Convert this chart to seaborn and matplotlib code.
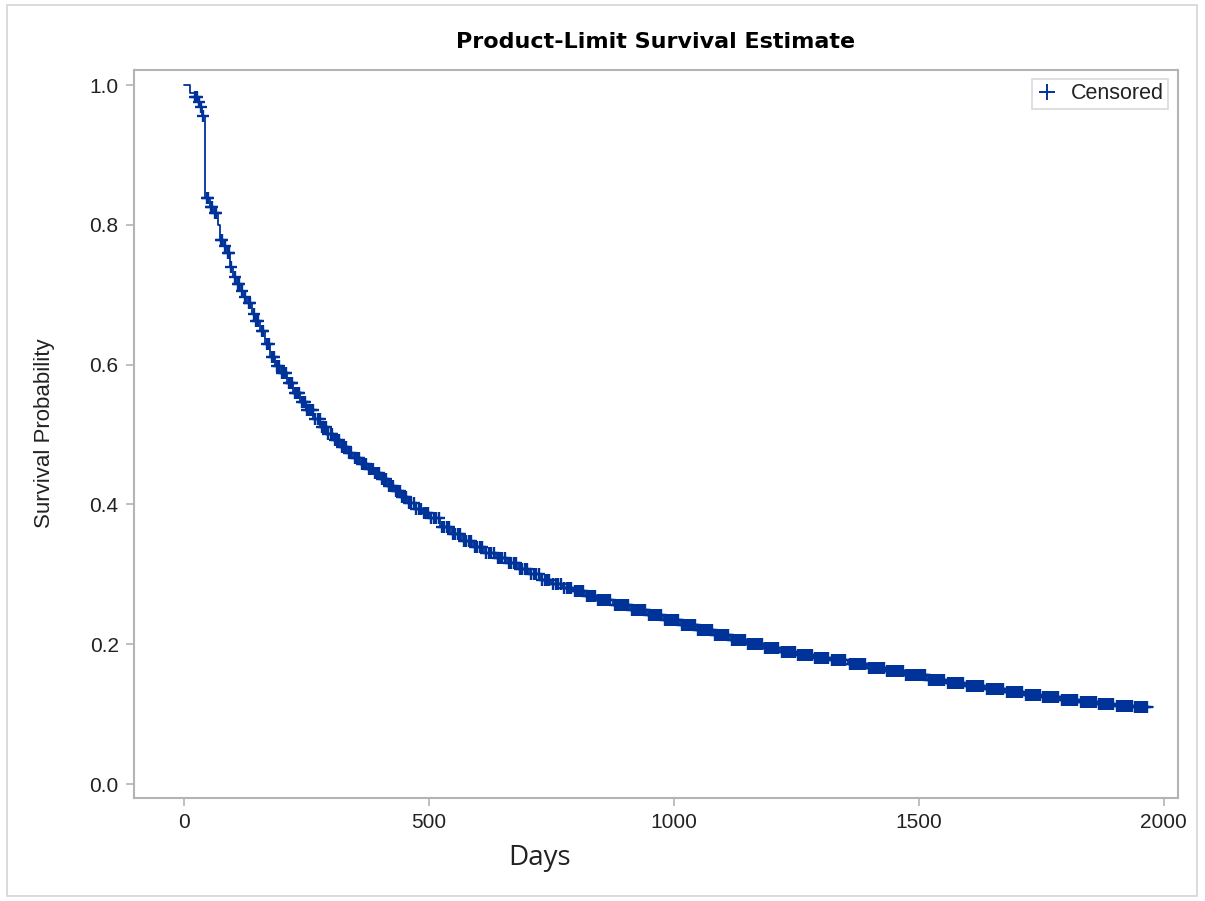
import numpy as np
import pandas as pd
import matplotlib
matplotlib.use("Agg")
import matplotlib.pyplot as plt
from matplotlib.patches import Rectangle
from matplotlib.lines import Line2D
import seaborn as sns

# ---- data ----
step_days = [0, 12, 22, 29, 33, 36, 43, 53, 60, 69,
             73, 80, 87, 94, 100, 107, 114, 121, 128, 138,
             145, 155, 165, 176, 186, 196, 210, 223, 236, 250,
             264, 278, 291, 304, 318, 332, 345, 360, 373, 386,
             400, 414, 428, 441, 455, 470, 485, 500, 522, 545,
             567, 590, 613, 636, 659, 682, 705, 727, 750, 772,
             794, 818, 842, 875, 910, 945, 978, 1012, 1046, 1080,
             1114, 1148, 1182, 1216, 1250, 1284, 1318, 1355, 1394, 1432,
             1470, 1516, 1555, 1595, 1635, 1675, 1715, 1750, 1788, 1826,
             1864, 1900, 1938]
step_surv = [1.0, 0.989, 0.983, 0.976, 0.969, 0.955, 0.838, 0.826, 0.817, 0.800,
             0.778, 0.770, 0.760, 0.740, 0.726, 0.716, 0.705, 0.697, 0.688, 0.673,
             0.662, 0.648, 0.630, 0.611, 0.598, 0.588, 0.573, 0.559, 0.547, 0.535,
             0.522, 0.511, 0.501, 0.492, 0.482, 0.474, 0.466, 0.458, 0.451, 0.445,
             0.436, 0.427, 0.419, 0.410, 0.402, 0.394, 0.388, 0.381, 0.368, 0.358,
             0.348, 0.339, 0.331, 0.323, 0.316, 0.308, 0.300, 0.292, 0.286, 0.281,
             0.276, 0.269, 0.263, 0.256, 0.249, 0.242, 0.234, 0.227, 0.220, 0.213,
             0.206, 0.200, 0.194, 0.189, 0.185, 0.181, 0.177, 0.171, 0.166, 0.161,
             0.156, 0.149, 0.145, 0.140, 0.136, 0.132, 0.128, 0.124, 0.120, 0.117,
             0.114, 0.112, 0.110]
last_day = 1978
censor_days = [
    22, 26, 31, 35, 38, 46, 49, 56, 58, 64, 66, 76, 78, 83, 90, 92, 97,
    104, 110, 112, 118, 125, 132, 135, 142, 148, 152, 160, 162, 170, 173,
    180, 183, 190, 193, 200, 205, 208, 215, 218, 221, 226, 228, 232, 235,
    240, 245, 248, 252, 255, 260, 263, 268, 273, 277, 282, 286, 290, 295, 300,
    303, 308, 313, 317, 322, 327, 331, 336, 341, 349, 354, 358, 364, 368, 372,
    377, 381, 385, 390, 395, 399, 404, 408, 413, 418, 422, 427, 432, 436, 440,
    445, 450, 454, 460, 464, 469, 474, 479, 484, 489, 494, 499, 505, 510, 515,
    520, 526, 531, 536, 541, 549, 554, 559, 564, 571, 576, 581, 586, 594, 599,
    604, 609, 617, 622, 627, 632, 640, 645, 650, 655, 663, 668, 673, 678, 686,
    691, 696, 701, 709, 714, 719, 724, 731, 736, 741, 746, 754, 759, 764, 769,
    776, 781, 786, 791,
    798, 802, 806, 810, 814,
    822, 826, 830, 834, 838,
    846, 850, 854, 858, 862, 866, 870,
    879, 883, 887, 891, 895, 899, 903, 907,
    914, 918, 922, 926, 930, 934, 938, 942,
    949, 953, 957, 961, 965, 969, 973,
    982, 986, 990, 994, 998, 1002, 1006, 1009,
    1016, 1020, 1024, 1028, 1032, 1036, 1040, 1043,
    1050, 1054, 1058, 1062, 1066, 1070, 1074, 1077,
    1084, 1088, 1092, 1096, 1100, 1104, 1108, 1111,
    1118, 1122, 1126, 1130, 1134, 1138, 1142, 1145,
    1152, 1156, 1160, 1164, 1168, 1172, 1176, 1179,
    1186, 1190, 1194, 1198, 1202, 1206, 1210, 1213,
    1220, 1224, 1228, 1232, 1236, 1240, 1244, 1247,
    1254, 1258, 1262, 1266, 1270, 1274, 1278, 1281,
    1288, 1292, 1296, 1300, 1304, 1308, 1312, 1315,
    1322, 1326, 1330, 1334, 1338, 1342, 1346, 1350,
    1359, 1363, 1367, 1371, 1375, 1379, 1383, 1387, 1391,
    1398, 1402, 1406, 1410, 1414, 1418, 1422, 1426, 1429,
    1436, 1440, 1444, 1448, 1452, 1456, 1460, 1464, 1467,
    1474, 1478, 1482, 1486, 1490, 1494, 1498, 1502, 1506, 1510, 1513,
    1520, 1524, 1528, 1532, 1536, 1540, 1544, 1548, 1552,
    1559, 1563, 1567, 1571, 1575, 1579, 1583, 1587, 1591,
    1599, 1603, 1607, 1611, 1615, 1619, 1623, 1627, 1631,
    1639, 1643, 1647, 1651, 1655, 1659, 1663, 1667, 1671,
    1679, 1683, 1687, 1691, 1695, 1699, 1703, 1707, 1711,
    1719, 1723, 1727, 1731, 1735, 1739, 1743, 1747,
    1754, 1758, 1762, 1766, 1770, 1774, 1778, 1782, 1785,
    1792, 1796, 1800, 1804, 1808, 1812, 1816, 1820, 1823,
    1830, 1834, 1838, 1842, 1846, 1850, 1854, 1858, 1861,
    1868, 1872, 1876, 1880, 1884, 1888, 1892, 1896,
    1904, 1908, 1912, 1916, 1920, 1924, 1928, 1932, 1935,
    1942, 1946, 1950, 1954, 1958, 1962, 1966]
x_ticks = [0, 500, 1000, 1500, 2000]
y_ticks = [0.0, 0.2, 0.4, 0.6, 0.8, 1.0]

title = "Product-Limit Survival Estimate"
x_label = "Days"
y_label = "Survival Probability"
legend_label = "Censored"

# ---- build frames ----
curve = pd.DataFrame({"Days": step_days + [last_day],
                      "Survival": step_surv + [step_surv[-1]]})
idx = np.searchsorted(np.array(step_days), np.array(censor_days), side="right") - 1
cens = pd.DataFrame({"Days": censor_days,
                     "Survival": np.array(step_surv)[idx]})

sns.set_theme(style="white")
plt.rcParams["font.family"] = ["Liberation Sans", "DejaVu Sans"]

BLUE = "#003399"
GRAY = "#b4b4b4"
TXT = "#222222"

fig = plt.figure(figsize=(12.05, 9.01), dpi=100)
fig.patch.set_facecolor("white")
ax = fig.add_axes([134 / 1205, 1 - 798 / 901, (1178 - 134) / 1205, (798 - 70) / 901])

sns.lineplot(data=curve, x="Days", y="Survival", ax=ax, color=BLUE,
             drawstyle="steps-post", linewidth=1.3, estimator=None, sort=False)
sns.scatterplot(data=cens, x="Days", y="Survival", ax=ax, marker="+",
                color=BLUE, s=80, linewidth=1.7, zorder=3)

ax.set_xlim(-102, 2029)
ax.set_ylim(-0.02, 1.0215)
ax.set_xticks(x_ticks)
ax.set_yticks(y_ticks)
ax.set_xticklabels([str(v) for v in x_ticks])
ax.set_yticklabels([f"{v:.1f}" for v in y_ticks])
ax.tick_params(axis="both", which="major", direction="out", length=6, width=1.2,
               color=GRAY, labelsize=15, labelcolor=TXT, pad=5,
               bottom=True, left=True, top=False, right=False)
for s in ax.spines.values():
    s.set_color(GRAY)
    s.set_linewidth(1.5)
ax.set_xlabel("")
ax.set_ylabel("")

fig.text(656 / 1205, 1 - 42 / 901, title, ha="center", va="center",
         fontsize=16, fontweight="bold", color="black",
         family=["DejaVu Sans"])
fig.text(540 / 1205, 1 - 858 / 901, x_label, ha="center", va="center",
         fontsize=20, color=TXT, family=["Open Sans", "DejaVu Sans"])
fig.text(45 / 1205, 1 - 433 / 901, y_label, ha="center", va="center",
         rotation=90, fontsize=16, color=TXT)

handle = Line2D([], [], linestyle="none", marker="+", color=BLUE,
                markersize=11, markeredgewidth=1.4)
leg = ax.legend([handle], [legend_label], loc="upper right",
                bbox_to_anchor=(1168 / 1205, 1 - 79 / 901),
                bbox_transform=fig.transFigure, frameon=True, fancybox=False,
                fontsize=15.5, handlelength=1.0, handletextpad=0.6,
                borderpad=0.2, borderaxespad=0)
leg.get_frame().set_edgecolor("#d0d0d0")
leg.get_frame().set_linewidth(1.2)
for t in leg.get_texts():
    t.set_color(TXT)

fig.patches.append(Rectangle((7 / 1205, 1 - 896 / 901), (1197 - 7) / 1205,
                             (896 - 5) / 901, transform=fig.transFigure,
                             fill=False, edgecolor="#d4d4d4", linewidth=1.2))

fig.savefig("out.png", dpi=100, facecolor="white")
